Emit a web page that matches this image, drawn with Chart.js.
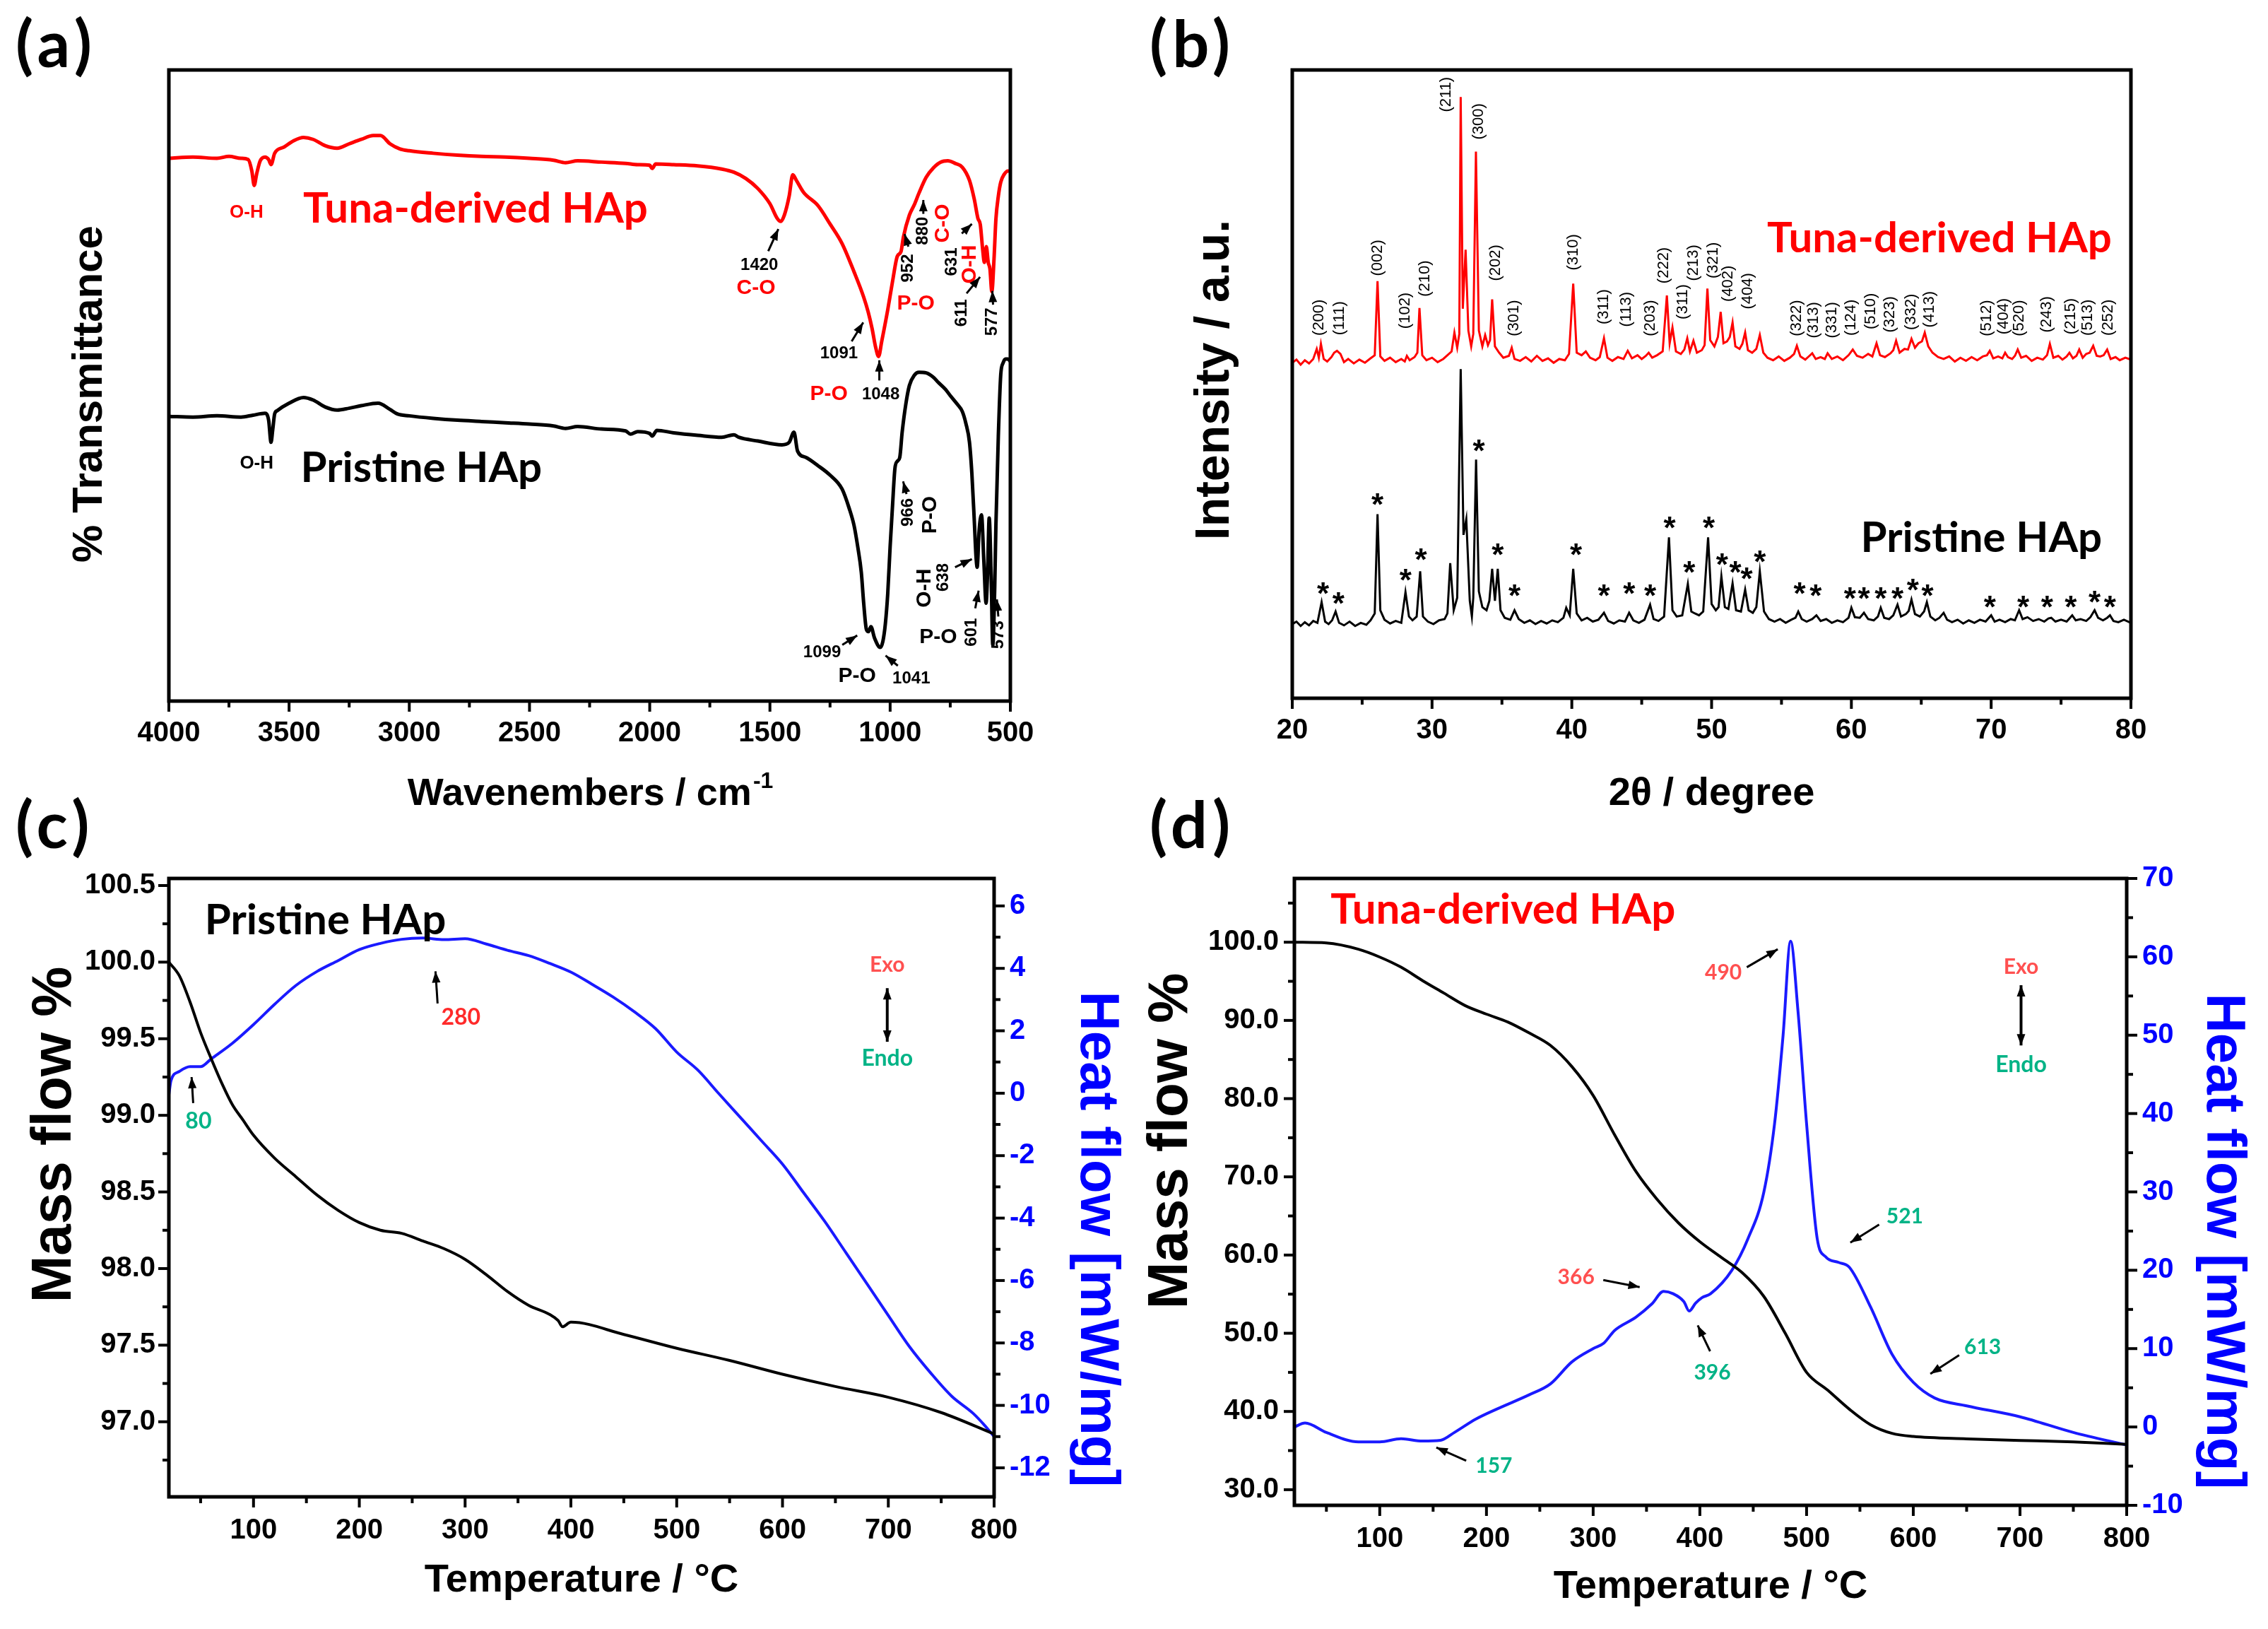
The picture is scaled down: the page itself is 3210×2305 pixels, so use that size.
<!DOCTYPE html>
<html>
<head>
<meta charset="utf-8">
<title>HAp characterisation</title>
<script src="https://cdn.jsdelivr.net/npm/chart.js@4.4.1/dist/chart.umd.min.js"></script>
<style>
  html, body { margin: 0; padding: 0; background: #fff; }
  body { position: relative; width: 3210px; height: 2305px; overflow: hidden; }
  canvas { position: absolute; }
  .tag { position: absolute; font: bold 92px Lato, sans-serif; letter-spacing: 7px; line-height: 96px; color: #000; }
</style>
</head>
<body>
<canvas id="ftir" width="1605" height="1152" style="left:0;top:0"></canvas>
<canvas id="xrd" width="1605" height="1152" style="left:1605px;top:0"></canvas>
<canvas id="tgaP" width="1605" height="1153" style="left:0;top:1152px"></canvas>
<canvas id="tgaT" width="1605" height="1153" style="left:1605px;top:1152px"></canvas>
<div class="tag" style="left:22px;top:12px">(a)</div>
<div class="tag" style="left:1627px;top:12px">(b)</div>
<div class="tag" style="left:22px;top:1117px">(c)</div>
<div class="tag" style="left:1627px;top:1117px">(d)</div>
<script>
// (a) FTIR, y in arbitrary % of frame height
const ftirTunaWave = [4000,3900,3800,3750,3700,3670,3655,3645,3635,3620,3600,3585,3575,3560,3520,3480,3440,3400,3350,3300,3250,3200,3150,3120,3080,3040,3000,2900,2800,2700,2600,2500,2400,2350,2300,2200,2100,2050,2000,1990,1975,1900,1800,1700,1650,1600,1550,1500,1470,1455,1440,1420,1405,1390,1360,1300,1250,1200,1150,1110,1091,1075,1060,1048,1035,1010,990,970,955,945,920,900,880,850,820,790,760,730,700,670,650,635,625,615,608,600,592,585,577,568,560,550,540,525,510,500];
const ftirTuna = [86.0,86.2,86.0,86.3,86.0,85.8,84.0,81.7,83.5,85.6,86.2,85.8,85.0,86.8,87.8,88.8,89.3,89.0,88.0,87.6,88.3,89.0,89.6,89.6,88.3,87.5,87.2,86.8,86.5,86.3,86.2,86.0,85.7,85.3,85.6,85.4,85.2,85.0,84.9,84.4,85.1,85.0,84.8,84.3,83.8,82.8,81.2,78.8,76.5,76.0,77.0,80.0,83.4,82.5,80.6,78.5,75.6,72.5,68.0,64.0,61.6,59.0,56.0,54.6,57.0,62.0,66.5,70.5,71.2,73.5,77.0,78.6,80.5,83.0,84.5,85.4,85.6,85.2,84.6,82.5,79.5,76.5,75.5,71.5,69.5,72.0,69.5,68.5,64.9,70.0,76.4,80.0,82.2,83.5,84.0,84.0];
const ftirPristineWave = [4000,3900,3800,3700,3650,3600,3585,3575,3568,3560,3550,3500,3440,3400,3350,3300,3250,3200,3130,3080,3050,3000,2900,2800,2700,2600,2500,2400,2350,2300,2200,2100,2080,2050,2000,1990,1970,1900,1800,1700,1650,1630,1550,1450,1420,1400,1385,1350,1300,1250,1200,1170,1150,1135,1120,1110,1099,1090,1080,1065,1041,1030,1020,1010,1000,990,980,970,960,950,935,920,900,880,850,820,800,770,750,720,700,685,670,660,650,643,638,630,620,610,601,595,588,580,573,565,560,550,540,530,520,510,500];
const ftirPristine = [45.1,45.0,45.2,45.0,45.3,45.6,44.5,41.0,43.0,45.5,46.0,47.2,48.1,47.7,46.6,46.1,46.4,46.8,47.2,46.2,45.5,45.2,44.8,44.5,44.3,44.1,43.9,43.6,43.2,43.5,43.1,42.8,42.3,42.7,42.4,42.0,42.9,42.5,42.1,41.8,42.2,41.8,41.2,40.6,41.0,42.6,39.6,38.6,37.3,35.8,33.6,30.5,27.8,24.5,20.4,15.5,11.4,11.0,11.8,10.0,8.5,9.5,12.2,17.0,24.5,31.0,36.9,38.0,38.6,42.6,47.0,50.0,51.6,52.1,52.0,51.3,50.5,49.4,48.4,47.0,45.9,44.0,41.0,36.0,28.6,23.0,21.2,27.0,29.5,22.0,15.5,20.0,29.0,20.0,8.9,18.0,28.0,42.0,51.7,53.6,54.2,54.2,53.8];

// (b) XRD
const xrdTunaTheta = [20.0,20.3,20.6,20.9,21.2,21.5,21.75,21.9,22.05,22.25,22.5,22.8,23.0,23.2,23.45,23.7,24.0,24.4,24.8,25.2,25.6,25.9,26.1,26.3,26.6,27.0,27.4,27.8,28.05,28.2,28.4,28.75,28.95,29.1,29.3,29.6,30.0,30.4,30.8,31.1,31.4,31.6,31.8,31.95,32.05,32.2,32.4,32.6,32.8,32.95,33.14,33.35,33.6,33.8,34.0,34.15,34.3,34.5,34.8,35.1,35.5,35.7,35.9,36.3,36.7,37.1,37.5,37.9,38.3,38.7,39.1,39.5,39.8,40.1,40.35,40.7,41.0,41.3,41.7,42.0,42.3,42.55,42.9,43.3,43.7,44.0,44.3,44.7,45.0,45.3,45.5,45.75,46.1,46.5,46.8,47.0,47.2,47.45,47.8,48.05,48.26,48.45,48.7,48.95,49.3,49.5,49.7,49.9,50.2,50.45,50.65,50.85,51.1,51.3,51.5,51.7,52.0,52.2,52.4,52.6,52.9,53.2,53.45,53.7,54.0,54.4,54.8,55.2,55.6,55.9,56.1,56.35,56.7,57.0,57.2,57.45,57.8,58.1,58.3,58.6,59.0,59.4,59.8,60.1,60.4,60.8,61.2,61.5,61.8,62.05,62.4,62.8,63.0,63.2,63.45,63.8,64.05,64.3,64.55,64.8,65.05,65.25,65.5,65.8,66.2,66.6,67.0,67.4,67.8,68.2,68.6,69.0,69.4,69.7,69.9,70.15,70.5,70.8,71.0,71.2,71.5,71.7,71.9,72.15,72.5,72.9,73.3,73.7,74.0,74.2,74.45,74.8,75.1,75.4,75.6,75.85,76.1,76.3,76.55,76.8,77.05,77.3,77.55,77.8,78.05,78.3,78.55,78.9,79.2,79.6,80.0];
const xrdTuna = [53.4,53.9,53.1,53.8,53.3,54.0,55.6,54.2,56.4,54.0,53.6,54.3,55.0,55.3,54.8,53.5,54.0,53.3,53.9,53.4,54.1,54.6,66.4,54.4,53.7,54.2,53.5,54.0,53.6,54.5,53.8,54.3,55.0,62.1,54.6,53.8,54.2,53.5,54.0,54.6,55.2,58.2,55.8,58.0,95.7,62.0,71.4,58.5,56.0,58.0,87.0,58.5,56.0,57.8,56.2,57.0,63.5,56.0,55.0,54.2,54.5,55.8,54.0,53.7,54.3,53.6,54.5,53.7,54.1,53.4,54.0,53.8,54.8,66.0,55.0,54.6,55.2,54.2,53.8,54.3,57.3,54.2,53.7,54.3,54.0,55.3,54.1,54.6,54.0,54.5,55.0,54.2,54.6,55.2,64.1,56.5,59.0,55.2,54.8,55.5,57.3,55.2,56.9,55.0,55.4,56.2,65.2,57.0,56.0,57.5,61.5,56.5,56.8,57.5,59.8,56.0,55.6,56.4,58.2,55.4,55.0,55.6,57.8,55.0,54.2,53.8,54.4,53.7,54.2,54.8,56.1,54.4,53.9,54.5,54.9,54.0,54.3,54.0,54.9,54.0,54.4,53.8,54.6,55.5,54.5,54.2,54.8,54.4,56.5,54.6,54.3,54.9,55.4,56.9,55.0,55.6,55.5,57.2,55.8,56.5,56.8,58.2,56.0,55.0,54.3,54.0,54.4,53.6,54.2,53.7,54.3,53.8,54.4,54.6,55.3,54.1,54.4,54.1,55.0,54.3,54.0,54.5,55.5,54.2,54.5,53.7,54.2,53.9,54.6,56.4,54.2,54.5,53.9,54.4,55.0,54.1,54.5,55.5,54.2,54.8,55.0,56.1,54.5,54.4,54.6,55.5,54.0,54.3,53.8,54.2,53.9];
const xrdPristineTheta = [20.0,20.3,20.6,20.9,21.2,21.5,21.8,22.1,22.35,22.6,22.85,23.1,23.35,23.7,24.1,24.5,24.9,25.3,25.6,25.9,26.1,26.3,26.6,27.0,27.4,27.8,28.1,28.35,28.6,28.9,29.15,29.35,29.7,30.1,30.5,30.9,31.1,31.3,31.55,31.8,32.05,32.25,32.45,32.7,32.85,32.95,33.15,33.35,33.6,33.9,34.1,34.3,34.5,34.7,34.9,35.2,35.6,35.9,36.2,36.6,37.0,37.4,37.8,38.2,38.6,39.0,39.4,39.6,39.85,40.1,40.35,40.7,41.1,41.5,41.9,42.3,42.6,43.0,43.4,43.8,44.1,44.4,44.8,45.2,45.6,45.85,46.2,46.6,46.95,47.2,47.5,47.9,48.3,48.55,48.8,49.1,49.4,49.75,50.0,50.3,50.5,50.7,50.95,51.2,51.5,51.75,52.1,52.4,52.65,52.95,53.2,53.45,53.75,54.1,54.5,54.9,55.3,55.7,56.0,56.2,56.45,56.8,57.2,57.5,57.8,58.2,58.6,59.0,59.4,59.8,60.0,60.25,60.6,60.9,61.2,61.6,61.9,62.1,62.35,62.7,63.0,63.3,63.55,63.9,64.1,64.3,64.55,64.9,65.2,65.4,65.65,66.0,66.3,66.6,66.85,67.2,67.6,68.0,68.4,68.8,69.2,69.6,70.0,70.25,70.6,71.0,71.4,71.7,72.0,72.25,72.6,73.0,73.4,73.8,74.1,74.3,74.6,75.0,75.4,75.8,76.05,76.4,76.8,77.1,77.4,77.65,78.0,78.3,78.5,78.75,79.1,79.5,80.0];
const xrdPristine = [11.8,12.2,11.5,12.1,11.6,12.3,12.0,15.3,12.2,11.8,12.4,13.8,12.0,11.6,12.2,11.5,12.0,11.7,12.4,13.5,29.3,14.0,12.5,11.9,12.3,12.0,16.9,13.0,12.4,13.0,20.2,13.0,12.2,11.8,12.4,12.6,13.5,21.5,14.0,16.0,52.4,26.0,28.5,15.5,13.0,16.0,38.0,17.0,14.5,14.0,15.5,20.6,15.5,20.6,14.0,12.8,12.5,14.0,12.6,12.0,12.4,11.8,12.3,11.9,12.4,12.1,12.8,14.4,13.2,20.6,13.5,12.4,12.8,12.2,12.5,13.6,12.3,11.9,12.4,12.2,13.6,12.4,12.0,12.5,14.9,12.6,12.3,13.0,25.6,14.0,13.0,13.2,18.2,13.8,13.5,13.2,13.8,25.6,15.0,14.0,14.5,19.4,14.5,14.2,18.3,14.0,13.8,17.3,14.0,13.6,14.5,20.2,13.8,12.6,12.2,12.6,12.0,12.5,12.8,13.8,12.6,12.2,12.6,13.2,12.3,12.6,12.0,12.4,12.1,12.8,14.4,12.9,12.8,13.6,12.6,12.4,13.0,14.4,12.8,12.6,13.2,14.9,13.0,13.4,13.9,15.7,13.4,13.0,13.8,15.3,13.0,12.4,12.8,13.6,12.5,12.1,12.5,11.9,12.4,12.0,12.5,12.2,13.2,12.2,12.5,12.1,12.6,12.4,14.0,12.6,12.9,12.3,12.6,12.2,12.7,12.8,12.2,12.5,12.2,13.2,12.4,12.6,12.3,12.9,14.0,12.8,12.4,12.8,13.2,12.3,12.1,12.5,12.0];
const hklText = ['(200)','(111)','(002)','(102)','(210)','(211)','(300)','(202)','(301)','(310)','(311)','(113)','(203)','(222)','(311)','(213)','(321)','(402)','(404)','(322)','(313)','(331)','(124)','(510)','(323)','(332)','(413)','(512)','(404)','(520)','(243)','(215)','(513)','(252)'];
const hklTheta = [21.9,23.4,26.1,28.1,29.5,31.0,33.35,34.55,35.85,40.1,42.3,43.9,45.6,46.6,47.95,48.7,50.1,51.2,52.6,56.1,57.3,58.6,60.0,61.4,62.75,64.3,65.6,69.7,70.9,72.0,74.0,75.7,76.9,78.4];
const hklPos = [60.6,60.5,70.1,61.7,66.8,96.1,91.8,69.3,60.5,71.0,62.3,61.9,60.5,68.9,63.1,69.3,69.7,66.0,64.8,60.5,60.2,60.2,60.6,61.6,61.1,61.5,61.9,60.5,60.8,60.5,61.1,60.8,60.6,60.6];
const starTheta = [22.2,23.3,26.1,28.1,29.2,33.35,34.7,35.9,40.3,42.3,44.1,45.6,47.0,48.4,49.8,50.75,51.7,52.5,53.45,56.3,57.45,59.9,60.9,62.1,63.3,64.4,65.45,69.9,72.3,74.0,75.7,77.4,78.5];
const starPos = [17.7,16.1,31.8,19.8,23.1,40.4,23.9,17.3,23.9,17.3,17.7,17.3,28.1,21.0,28.1,22.3,21.0,20.0,22.7,17.7,17.3,16.9,16.9,16.9,16.9,18.2,17.3,15.5,15.5,15.5,15.5,16.3,15.5];

// (c) pristine TGA / DSC
const tgaTempC = [20,30,40,50,60,70,80,90,100,120,140,160,180,200,220,240,260,280,300,320,340,360,380,388,392,400,450,500,550,600,650,700,750,800];
const tgaMassC = [100.0,99.91,99.74,99.54,99.37,99.21,99.07,98.97,98.87,98.72,98.6,98.48,98.38,98.3,98.25,98.23,98.18,98.13,98.06,97.96,97.85,97.76,97.7,97.66,97.62,97.65,97.57,97.48,97.4,97.31,97.23,97.16,97.06,96.92];
const dscTempC = [20,22,30,40,50,60,80,100,120,140,160,180,200,220,240,260,280,300,320,340,360,380,400,420,440,460,480,500,520,540,560,580,600,620,640,660,680,700,720,740,760,780,790,800];
const dscHeatC = [-0.05,0.4,0.7,0.85,0.85,1.1,1.6,2.2,2.85,3.45,3.9,4.25,4.6,4.8,4.93,4.97,4.92,4.95,4.78,4.58,4.41,4.16,3.88,3.49,3.08,2.61,2.07,1.32,0.74,-0.02,-0.77,-1.52,-2.27,-3.19,-4.11,-5.11,-6.11,-7.12,-8.12,-8.96,-9.71,-10.25,-10.6,-11.0];

// (d) tuna TGA / DSC
const tgaTempD = [20,50,80,100,120,140,160,180,200,220,240,260,280,300,320,340,360,380,400,420,440,460,480,500,520,540,560,580,600,650,700,750,800];
const tgaMassD = [100,99.9,99.1,98.1,96.8,95.1,93.5,91.9,90.8,89.8,88.4,86.8,84.1,80.4,75.4,70.7,67.1,64.1,61.7,59.7,57.7,54.7,50,45,42.7,40.3,38.3,37.2,36.8,36.5,36.3,36.1,35.8];
const dscTempD = [20,30,50,80,100,120,140,157,170,190,210,240,260,280,300,310,320,340,355,366,375,385,390,396,402,410,430,445,460,470,478,485,492,500,510,518,530,540,560,580,600,620,650,700,750,800];
const dscHeatD = [0,0.5,-0.7,-1.9,-1.9,-1.5,-1.8,-1.7,-0.7,1,2.3,4.1,5.5,8.3,10,10.7,12.3,14,15.7,17.3,17,16.0,14.8,15.8,16.5,17,20,24,30,38.7,50,62,53,38.7,24,21.7,21.0,20.4,15.3,9.3,5.7,3.7,2.7,1.3,-0.7,-2.3];

const RED = '#ff0000', BLUE = '#1a1aff', GREEN = '#00b386', PINK = '#ff5050';
const ARIAL = '"Liberation Sans", Arial, sans-serif';
const CALI = 'Lato, "Open Sans", sans-serif';
const NUM = `bold 24px ${ARIAL}`, BOND = `bold 30px ${ARIAL}`, BIG = `bold 60px ${CALI}`, ANN = `bold 30px ${CALI}`;

const pts = (xs, ys) => xs.map((x, i) => ({x, y: ys[i]}));

function head(ctx, x1, y1, x2, y2) {
  const a = Math.atan2(y2 - y1, x2 - x1), L = 16, W = 6;
  ctx.beginPath();
  ctx.moveTo(x2, y2);
  ctx.lineTo(x2 - L * Math.cos(a) + W * Math.sin(a), y2 - L * Math.sin(a) - W * Math.cos(a));
  ctx.lineTo(x2 - L * Math.cos(a) - W * Math.sin(a), y2 - L * Math.sin(a) + W * Math.cos(a));
  ctx.closePath();
  ctx.fill();
}

const deco = {
  id: 'deco',
  afterDatasetsDraw(chart, args, o) {
    const {ctx, chartArea: a, scales} = chart;
    const X = v => scales.x.getPixelForValue(v);
    const Y = (v, ax) => scales[ax || 'y'].getPixelForValue(v);
    ctx.save();
    ctx.strokeStyle = '#000';
    ctx.fillStyle = '#000';
    // outward major / minor ticks
    (o.ticks || []).forEach(t => {
      const s = scales[t.axis];
      ctx.lineWidth = 4;
      for (let n = Math.ceil(s.min / t.minor - 1e-9); n * t.minor <= s.max + 1e-9; n++) {
        const v = n * t.minor, r = v / t.major;
        const len = Math.abs(r - Math.round(r)) < 1e-6 ? 15 : 9;
        const p = s.getPixelForValue(v);
        ctx.beginPath();
        if (t.side === 'bottom') { ctx.moveTo(p, a.bottom); ctx.lineTo(p, a.bottom + len); }
        else if (t.side === 'left') { ctx.moveTo(a.left, p); ctx.lineTo(a.left - len, p); }
        else { ctx.moveTo(a.right, p); ctx.lineTo(a.right + len, p); }
        ctx.stroke();
      }
    });
    ctx.lineWidth = 5;
    ctx.strokeRect(a.left, a.top, a.right - a.left, a.bottom - a.top);

    ctx.textAlign = 'center';
    ctx.textBaseline = 'middle';
    (o.labels || []).forEach(l => {
      ctx.save();
      ctx.translate(X(l.x), Y(l.y, l.ax) + (l.dy || 0));
      if (l.r) ctx.rotate(l.r * Math.PI / 180);
      ctx.font = l.f;
      ctx.fillStyle = l.c || '#000';
      ctx.fillText(l.t, 0, 0);
      ctx.restore();
    });
    (o.arrows || []).forEach(w => {
      const x1 = X(w[0]), y1 = Y(w[1]), x2 = X(w[2]), y2 = Y(w[3]);
      ctx.lineWidth = w[4] ? 4 : 3;
      ctx.beginPath(); ctx.moveTo(x1, y1); ctx.lineTo(x2, y2); ctx.stroke();
      head(ctx, x1, y1, x2, y2);
      if (w[4]) head(ctx, x2, y2, x1, y1);
    });
    // axis titles
    (o.titles || []).forEach(t => {
      ctx.save();
      ctx.fillStyle = t.c || '#000';
      const cy = (a.top + a.bottom) / 2 + (t.shift || 0);
      if (t.side === 'bottom') ctx.translate((a.left + a.right) / 2, a.bottom + t.off);
      else if (t.side === 'left') { ctx.translate(a.left - t.off, cy); ctx.rotate(-Math.PI / 2); }
      else { ctx.translate(a.right + t.off, cy); ctx.rotate(Math.PI / 2); }
      ctx.font = t.f;
      if (t.sup) {
        const w1 = ctx.measureText(t.t).width;
        const sf = t.f.replace(/\d+px/, m => Math.round(parseInt(m) * 0.6) + 'px');
        ctx.font = sf;
        const w2 = ctx.measureText(t.sup).width;
        ctx.textAlign = 'left';
        ctx.fillText(t.sup, -(w1 + w2) / 2 + w1 + 2, -18);
        ctx.font = t.f;
        ctx.fillText(t.t, -(w1 + w2) / 2, 0);
      } else {
        ctx.fillText(t.t, 0, 0);
      }
      ctx.restore();
    });
    ctx.restore();
  }
};

const tickFont = {family: ARIAL, size: 40, weight: 'bold'};
function xAxis(min, max, step, extra) {
  return Object.assign({
    type: 'linear', position: 'bottom', min, max,
    grid: {display: false, drawTicks: false}, border: {display: false},
    ticks: {stepSize: step, includeBounds: false, autoSkip: false, maxRotation: 0, minRotation: 0,
            padding: 22, color: '#000', font: tickFont, callback: v => String(v)},
    afterFit: s => { s.height = 70; }
  }, extra || {});
}
function yAxis(pos, min, max, step, fmt, color, pad) {
  return {
    type: 'linear', position: pos, min, max,
    grid: {display: false, drawTicks: false}, border: {display: false},
    ticks: {stepSize: step, includeBounds: false, autoSkip: false, padding: pad,
            color, font: tickFont, callback: fmt},
    afterFit: s => { s.width = pos === 'left' ? 140 : 110; }
  };
}

function makeChart(id, box, frame, scales, datasets, opts) {
  const leftW = scales.y.display === false ? 0 : 140;
  const rightW = scales.y2 ? 110 : 0;
  const padding = {
    left: frame.l - box.x - leftW,
    top: frame.t - box.y,
    right: box.x + box.w - frame.r - rightW,
    bottom: box.y + box.h - frame.b - 70
  };
  return new Chart(document.getElementById(id), {
    type: 'line',
    data: {datasets},
    options: {
      responsive: false, animation: false, events: [],
      layout: {padding},
      scales,
      plugins: {legend: {display: false}, tooltip: {enabled: false}, deco: opts}
    },
    plugins: [deco]
  });
}

const line = (xs, ys, color, width, extra) => Object.assign({
  data: pts(xs, ys), borderColor: color, borderWidth: width, pointRadius: 0,
  fill: false, cubicInterpolationMode: 'monotone'
}, extra || {});

// (a)
makeChart('ftir', {x: 0, y: 0, w: 1605, h: 1152}, {l: 239, t: 99, r: 1430, b: 992},
  {x: xAxis(500, 4000, 500, {reverse: true}), y: {type: 'linear', display: false, min: 0, max: 100}},
  [line(ftirTunaWave, ftirTuna, RED, 5), line(ftirPristineWave, ftirPristine, '#000', 5)],
  {
    ticks: [{axis: 'x', side: 'bottom', major: 500, minor: 250}],
    labels: [
      {t: 'O-H', x: 3677, y: 77.4, c: RED, f: `bold 26px ${ARIAL}`},
      {t: 'Tuna-derived HAp', x: 2725, y: 78, c: RED, f: BIG},
      {t: '1420', x: 1544, y: 69.1, f: NUM},
      {t: 'C-O', x: 1558, y: 65.4, c: RED, f: BOND},
      {t: '1091', x: 1213, y: 55.0, f: NUM},
      {t: 'P-O', x: 1255, y: 48.6, c: RED, f: BOND},
      {t: '1048', x: 1039, y: 48.6, f: NUM},
      {t: '952', x: 926, y: 68.6, f: NUM, r: -90},
      {t: 'P-O', x: 893, y: 63.0, c: RED, f: BOND},
      {t: '880', x: 862, y: 74.5, f: NUM, r: -90},
      {t: 'C-O', x: 780, y: 75.7, c: RED, f: BOND, r: -90},
      {t: '631', x: 744, y: 69.6, f: NUM, r: -90},
      {t: 'O-H', x: 668, y: 69.2, c: RED, f: BOND, r: -90},
      {t: '611', x: 702, y: 61.5, f: NUM, r: -90},
      {t: '577', x: 576, y: 60.1, f: NUM, r: -90},
      {t: 'O-H', x: 3635, y: 37.7, f: `bold 26px ${ARIAL}`},
      {t: 'Pristine HAp', x: 2950, y: 36.9, f: BIG},
      {t: '966', x: 926, y: 29.9, f: NUM, r: -90},
      {t: 'P-O', x: 834, y: 29.5, f: BOND, r: -90},
      {t: 'O-H', x: 856, y: 17.9, f: BOND, r: -90},
      {t: '638', x: 778, y: 19.6, f: NUM, r: -90},
      {t: '601', x: 660, y: 10.9, f: NUM, r: -90},
      {t: 'P-O', x: 800, y: 10.1, f: BOND},
      {t: '573', x: 548, y: 10.5, f: NUM, r: -90},
      {t: '1099', x: 1283, y: 7.7, f: NUM},
      {t: 'P-O', x: 1137, y: 4.0, f: BOND},
      {t: '1041', x: 912, y: 3.5, f: NUM}
    ],
    arrows: [[1507, 71.3, 1465, 74.8], [1160, 57.0, 1112, 60.0], [1045, 50.8, 1045, 54.0], [924, 72.0, 940, 74.0],
             [862, 77.2, 862, 79.4], [702, 74.1, 660, 75.6], [682, 64.6, 626, 67.2], [572, 62.8, 575, 65.0],
             [932, 32.8, 946, 34.8], [730, 21.2, 660, 22.5], [646, 14.7, 632, 17.5], [550, 13.4, 556, 16.1],
             [1199, 8.9, 1137, 10.4], [968, 5.6, 1019, 7.2]],
    titles: [
      {side: 'bottom', off: 132, t: 'Wavenembers / cm', sup: '-1', f: `bold 54px ${ARIAL}`},
      {side: 'left', off: 112, shift: 12, t: '% Transmittance', f: `bold 60px ${ARIAL}`}
    ]
  });

// (b)
const xrdLabels = hklText.map((t, i) => ({t, x: hklTheta[i], y: hklPos[i], f: `22px ${ARIAL}`, r: -90}))
  .concat(starTheta.map((x, i) => ({t: '*', x, y: starPos[i], dy: 12, f: `bold 44px ${ARIAL}`})))
  .concat([{t: 'Tuna-derived HAp', x: 66.3, y: 73.1, c: RED, f: BIG},
           {t: 'Pristine HAp', x: 69.3, y: 25.5, f: BIG}]);
makeChart('xrd', {x: 1605, y: 0, w: 1605, h: 1152}, {l: 1829, t: 99, r: 3016, b: 988},
  {x: xAxis(20, 80, 10), y: {type: 'linear', display: false, min: 0, max: 100}},
  [line(xrdTunaTheta, xrdTuna, RED, 3, {cubicInterpolationMode: 'default', tension: 0}),
   line(xrdPristineTheta, xrdPristine, '#000', 3, {cubicInterpolationMode: 'default', tension: 0})],
  {
    ticks: [{axis: 'x', side: 'bottom', major: 10, minor: 5}],
    labels: xrdLabels,
    titles: [
      {side: 'bottom', off: 136, t: '2θ / degree', f: `bold 56px ${ARIAL}`},
      {side: 'left', off: 109, shift: -6, t: 'Intensity / a.u.', f: `bold 68px ${ARIAL}`}
    ]
  });

// (c)
const half = v => Math.abs(v * 2 - Math.round(v * 2)) < 1e-6 ? v.toFixed(1) : '';
const whole = v => Math.abs(v - Math.round(v)) < 1e-6 ? String(Math.round(v)) : '';
makeChart('tgaP', {x: 0, y: 1152, w: 1605, h: 1153}, {l: 239, t: 1243, r: 1407, b: 2118},
  {x: xAxis(20, 800, 100, {ticks: Object.assign({}, xAxis(0, 1, 1).ticks, {stepSize: 100, padding: 24})}),
   y: yAxis('left', 96.51, 100.546, 0.5, half, '#000', 19),
   y2: yAxis('right', -12.93, 6.88, 2, whole, '#0000ff', 22)},
  [line(tgaTempC, tgaMassC, '#000', 4), line(dscTempC, dscHeatC, BLUE, 4, {yAxisID: 'y2'})],
  {
    ticks: [{axis: 'x', side: 'bottom', major: 100, minor: 50},
            {axis: 'y', side: 'left', major: 0.5, minor: 0.25},
            {axis: 'y2', side: 'right', major: 2, minor: 1}],
    labels: [
      {t: 'Pristine HAp', x: 168, y: 100.27, f: BIG},
      {t: '280', x: 296, y: 99.64, c: '#ff2a2a', f: `bold 32px ${CALI}`},
      {t: '80', x: 48, y: 98.96, c: GREEN, f: `bold 32px ${CALI}`},
      {t: 'Exo', x: 699, y: 99.98, c: PINK, f: ANN},
      {t: 'Endo', x: 699, y: 99.37, c: GREEN, f: `bold 32px ${CALI}`}
    ],
    arrows: [[274, 99.73, 272, 99.94], [43, 99.08, 41.5, 99.25], [699, 99.83, 699, 99.48, true]],
    titles: [
      {side: 'bottom', off: 119, t: 'Temperature / °C', f: `bold 56px ${ARIAL}`},
      {side: 'left', off: 161, shift: -75, t: 'Mass flow %', f: `bold 80px ${ARIAL}`},
      {side: 'right', off: 145, shift: 73, t: 'Heat flow [mW/mg]', c: '#0000ff', f: `bold 78px ${ARIAL}`}
    ]
  });

// (d)
const oneDec = v => v.toFixed(1);
makeChart('tgaT', {x: 1605, y: 1152, w: 1605, h: 1153}, {l: 1832, t: 1243, r: 3010, b: 2130},
  {x: xAxis(20, 800, 100, {ticks: Object.assign({}, xAxis(0, 1, 1).ticks, {stepSize: 100, padding: 24})}),
   y: yAxis('left', 28, 108.15, 10, oneDec, '#000', 22),
   y2: yAxis('right', -10, 70, 10, whole, '#0000ff', 22)},
  [line(tgaTempD, tgaMassD, '#000', 4), line(dscTempD, dscHeatD, BLUE, 4, {yAxisID: 'y2'})],
  {
    ticks: [{axis: 'x', side: 'bottom', major: 100, minor: 50},
            {axis: 'y', side: 'left', major: 10, minor: 5},
            {axis: 'y2', side: 'right', major: 10, minor: 5}],
    labels: [
      {t: 'Tuna-derived HAp', x: 215.5, y: 104.1, c: RED, f: BIG},
      {t: '490', x: 422, y: 96.1, c: PINK, f: ANN},
      {t: '366', x: 284, y: 57.2, c: PINK, f: ANN},
      {t: '396', x: 411.7, y: 45, c: GREEN, f: ANN},
      {t: '521', x: 592, y: 64.9, c: GREEN, f: ANN},
      {t: '613', x: 665, y: 48.2, c: GREEN, f: ANN},
      {t: '157', x: 207, y: 33, c: GREEN, f: ANN},
      {t: 'Exo', x: 701, y: 96.8, c: PINK, f: ANN},
      {t: 'Endo', x: 701, y: 84.3, c: GREEN, f: `bold 32px ${CALI}`}
    ],
    arrows: [[444, 96.8, 473, 99.1], [309.5, 56.8, 343.6, 55.9], [409.6, 47.7, 398, 51], [568, 63.9, 541, 61.6],
             [643, 47.2, 616, 44.8], [181, 33.7, 153, 35.4], [701, 94.5, 701, 86.8, true]],
    titles: [
      {side: 'bottom', off: 116, t: 'Temperature / °C', f: `bold 56px ${ARIAL}`},
      {side: 'left', off: 174, shift: -72, t: 'Mass flow %', f: `bold 80px ${ARIAL}`},
      {side: 'right', off: 136, shift: 70, t: 'Heat flow [mW/mg]', c: '#0000ff', f: `bold 78px ${ARIAL}`}
    ]
  });
</script>
</body>
</html>
